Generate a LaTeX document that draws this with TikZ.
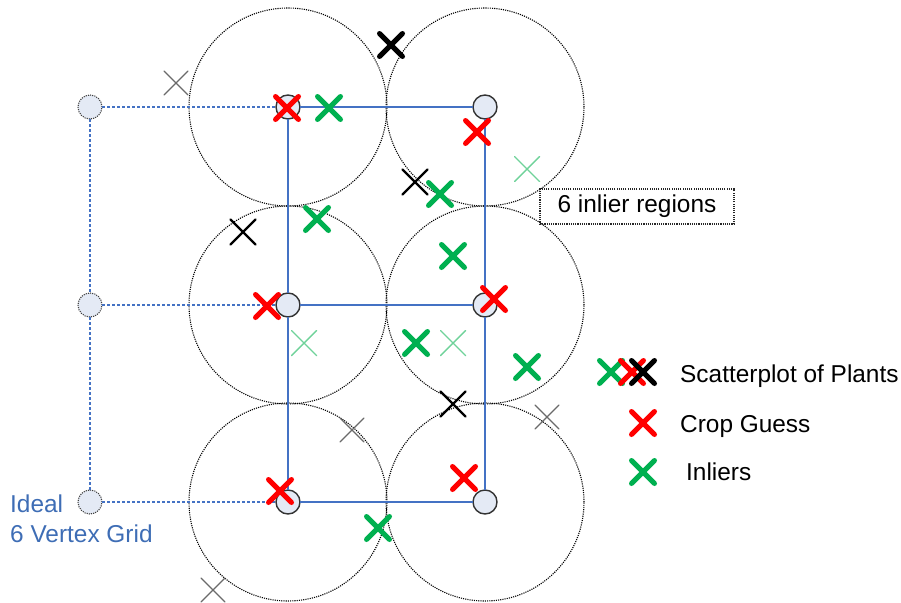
\documentclass[tikz,border=0pt]{standalone}
\usepackage{fontspec}
\setmainfont{Liberation Sans}
\usetikzlibrary{shapes.misc}
\definecolor{gblue}{HTML}{4472C4}
\definecolor{tblue}{HTML}{3E6DB5}
\definecolor{cred}{HTML}{FF0000}
\definecolor{cgreen}{HTML}{00B050}
\definecolor{lgreen}{HTML}{6FD29A}
\definecolor{vfill}{HTML}{E4EAF5}
\definecolor{cgrey}{HTML}{6A6A6A}
\tikzset{
  region/.style={draw=black, line width=1.1pt, dash pattern=on 1.1pt off 1.1pt},
  vert/.style={circle, draw=black!80, fill=vfill, line width=1.4pt, minimum size=24pt, inner sep=0pt, outer sep=0pt},
  ideal/.style={circle, draw=black!75, fill=vfill, line width=1.1pt, dash pattern=on 1.1pt off 1.1pt, minimum size=24pt, inner sep=0pt, outer sep=0pt},
  gridline/.style={draw=gblue, line width=2.2pt},
  idealline/.style={draw=gblue, line width=2.6pt, dash pattern=on 3pt off 2pt},
  mk/.style={cross out, draw, inner sep=0pt, outer sep=0pt, minimum size=#1, line cap=round},
  guess/.style={mk=23pt, draw=cred, line width=5pt},
  inlier/.style={mk=23pt, draw=cgreen, line width=5pt},
  weakin/.style={mk=25pt, draw=lgreen, line width=1.4pt},
  plantbig/.style={mk=23pt, draw=black, line width=5pt},
  plant/.style={mk=25pt, draw=black, line width=2.2pt},
  plantthin/.style={mk=24pt, draw=cgrey, line width=1.3pt},
  lbl/.style={font=\fontsize{24.4}{28}\selectfont, inner sep=0pt, anchor=base west},
  regionbox/.style={draw=black!85, line width=1.1pt, dash pattern=on 1.1pt off 1.1pt, minimum width=194pt, minimum height=35pt, inner sep=0pt, font=\fontsize{24.4}{28}\selectfont}
}
\begin{document}
\begin{tikzpicture}[x=1pt, y=-1pt]
\useasboundingbox (0,0) rectangle (901,602);
% inlier regions
\foreach \cx/\cy in {288/107, 485/107, 288/305, 485/305, 288/502, 485/502}
  \draw[region] (\cx,\cy) circle[radius=99pt];
% vertices
\node[vert] (v11) at (288,107) {};
\node[vert] (v12) at (485,107) {};
\node[vert] (v21) at (288,305) {};
\node[vert] (v22) at (485,305) {};
\node[vert] (v31) at (288,502) {};
\node[vert] (v32) at (485,502) {};
\node[ideal] (i1) at (90,107) {};
\node[ideal] (i2) at (90,305) {};
\node[ideal] (i3) at (90,502) {};
% grid lines
\draw[gridline] (v11) -- (v12);
\draw[gridline] (v21) -- (v22);
\draw[gridline] (v31) -- (v32);
\draw[gridline] (v11) -- (v21);
\draw[gridline] (v21) -- (v31);
\draw[gridline] (v12) -- (v22);
\draw[gridline] (v22) -- (v32);
% ideal grid
\draw[idealline] (i1) -- (v11);
\draw[idealline] (i2) -- (v21);
\draw[idealline] (i3) -- (v31);
\draw[idealline] (i1) -- (i2);
\draw[idealline] (i2) -- (i3);
% labels
\node[lbl, text=tblue] (t1) at (10,512) {Ideal};
\node[lbl, text=tblue] (t2) at (10,542) {6 Vertex Grid};
\node[regionbox] (rb) at (637,206.5) {6 inlier regions};
% plants (thin grey)
\node[plantthin] (p1) at (176,83) {};
\node[plantthin] (p2) at (352,430) {};
\node[plantthin] (p3) at (547,417) {};
\node[plantthin] (p4) at (213,590) {};
% plants (black)
\node[plant] (p5) at (243,232) {};
\node[plant] (p6) at (415,182) {};
\node[plant] (p7) at (453,404) {};
\node[plantbig] (p8) at (391,45) {};
% weak inliers
\node[weakin] (w1) at (527,169) {};
\node[weakin] (w2) at (304,343) {};
\node[weakin] (w3) at (453,343) {};
% inliers
\node[inlier] (g1) at (329,108) {};
\node[inlier] (g2) at (317,219) {};
\node[inlier] (g3) at (440,194) {};
\node[inlier] (g4) at (453,256) {};
\node[inlier] (g5) at (416,343) {};
\node[inlier] (g6) at (527,367) {};
\node[inlier] (g7) at (378,528) {};
% crop guesses
\node[guess] (r1) at (287,108) {};
\node[guess] (r2) at (477,132) {};
\node[guess] (r3) at (267,306) {};
\node[guess] (r4) at (494,299) {};
\node[guess] (r5) at (280,491) {};
\node[guess] (r6) at (464,478) {};
% legend
\node[inlier] (lg1) at (611,372) {};
\node[guess] (lg2) at (632,372) {};
\node[plantbig] (lg3) at (643,372) {};
\node[lbl] (lt1) at (680,382) {Scatterplot of Plants};
\node[guess] (lg4) at (643,423) {};
\node[lbl] (lt2) at (680,432) {Crop Guess};
\node[inlier] (lg5) at (643,472) {};
\node[lbl] (lt3) at (686,480) {Inliers};
\end{tikzpicture}
\end{document}
